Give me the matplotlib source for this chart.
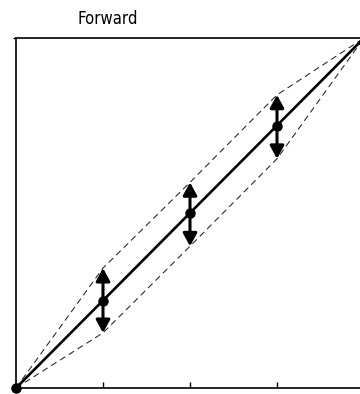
import numpy as np
import matplotlib
matplotlib.use("Agg")
import matplotlib.pyplot as plt

# values
x_pts = [0, 1, 2, 3, 4]
mean_line = [0, 1, 2, 3, 4]
upper_env = [0, 1.37, 2.35, 3.35, 4]
lower_env = [0, 0.63, 1.62, 2.62, 4]

arrow_x = [1, 2, 3]
arrow_top = [1.37, 2.35, 3.35]
arrow_bot = [0.63, 1.62, 2.62]

dot_x = [0, 1, 2, 3]
dot_y = [0, 1, 2, 3]


def plot():
    fig = plt.figure(figsize=(3.6, 3.94), dpi=100)
    ax = fig.add_axes([16 / 360, 6 / 394, 348 / 360, 350 / 394])

    ax.plot(x_pts, upper_env, color='#222222', lw=0.75, ls=(0, (6, 4)))
    ax.plot(x_pts, lower_env, color='#222222', lw=0.75, ls=(0, (6, 4)))
    ax.plot(x_pts, mean_line, color='black', lw=1.9, clip_on=False)

    for xa, yt, yb in zip(arrow_x, arrow_top, arrow_bot):
        ax.annotate('', xy=(xa, yt), xytext=(xa, yb),
                    arrowprops=dict(arrowstyle='<|-|>,head_length=0.55,head_width=0.3',
                                    color='black', lw=2.2,
                                    mutation_scale=14, shrinkA=0, shrinkB=0))

    ax.plot(dot_x, dot_y, 'o', color='black', ms=6.5, clip_on=False, zorder=5)

    ax.set_xlim(0, 4)
    ax.set_ylim(0, 4)
    ax.set_xticks([1, 2, 3])
    ax.set_xticklabels([])
    ax.set_yticks([4])
    ax.set_yticklabels([])
    ax.tick_params(axis='x', direction='in', length=4, width=1)
    ax.tick_params(axis='y', direction='out', length=2, width=1)
    for s in ax.spines.values():
        s.set_linewidth(1.2)

    fig.text(108 / 360, 1 - 19 / 394, 'Forward', ha='center', va='center',
             fontsize=12, fontstretch='condensed', family='DejaVu Sans')

    fig.savefig('out.png', dpi=100)


if __name__ == "__main__":
    plot()
